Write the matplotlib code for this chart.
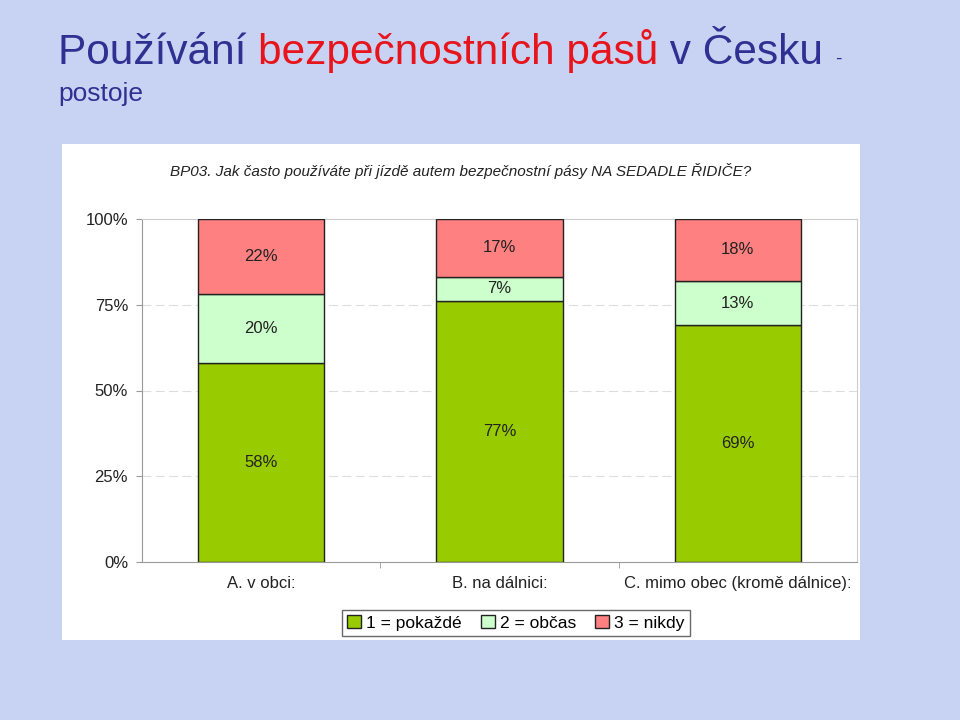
import numpy as np
import matplotlib.pyplot as plt
from matplotlib.patches import Rectangle

plt.rcParams['font.family'] = ['Liberation Sans', 'DejaVu Sans']

categories = ['A. v obci:', 'B. na dálnici:', 'C. mimo obec (kromě dálnice):']
series = ['1 = pokaždé', '2 = občas', '3 = nikdy']
pokazde = [58, 77, 69]
obcas = [20, 7, 13]
nikdy = [22, 17, 18]
colors = ['#99CC00', '#CCFFCC', '#FF8080']

fig = plt.figure(figsize=(9.6, 7.2), dpi=100)
fig.patch.set_facecolor('#C8D3F3')

# white chart panel
fig.patches.append(Rectangle((62 / 960, 1 - 640 / 720), (860 - 62) / 960, (640 - 144) / 720,
                             transform=fig.transFigure, facecolor='white',
                             edgecolor='none', zorder=-5))

# slide title, drawn piece by piece for the two colours
fig.canvas.draw()
r = fig.canvas.get_renderer()
x = 58
for txt, col, size in [('Používání ', '#2E3192', 30.5), ('bezpečnostních pásů', '#E8141C', 30.5),
                       (' v Česku ', '#2E3192', 30.5), ('-', '#2E3192', 14)]:
    tt = fig.text(x / 960, 1 - 64 / 720, txt, fontsize=size, color=col, va='baseline')
    x += tt.get_window_extent(r).width
fig.text(58 / 960, 1 - 94 / 720, 'postoje', fontsize=19, color='#2E3192', va='center')

fig.text(461 / 960, 1 - 171 / 720,
         'BP03. Jak často používáte při jízdě autem bezpečnostní pásy NA SEDADLE ŘIDIČE?',
         fontsize=11, style='italic', ha='center', va='center', color='#222222')

ax = fig.add_axes([142 / 960, 1 - 562 / 720, (857 - 142) / 960, (562 - 219) / 720])
ax.set_facecolor('white')

vals = np.array([pokazde, obcas, nikdy], dtype=float)
share = vals / vals.sum(axis=0) * 100
xpos = np.arange(len(categories))
bottom = np.zeros(len(categories))
for i in range(len(series)):
    ax.bar(xpos, share[i], bottom=bottom, width=0.53, color=colors[i],
           edgecolor='#222222', linewidth=1, label=series[i], zorder=3)
    for j in range(len(categories)):
        ax.text(xpos[j], bottom[j] + share[i][j] / 2, f'{int(vals[i][j])}%',
                ha='center', va='center', fontsize=12, color='#222222', zorder=4)
    bottom += share[i]

ax.set_xlim(-0.5, 2.5)
ax.set_ylim(0, 100)
ax.set_yticks([0, 25, 50, 75, 100])
ax.set_yticklabels(['0%', '25%', '50%', '75%', '100%'], fontsize=12, color='#222222')
ax.set_xticks(xpos)
ax.set_xticklabels(categories, fontsize=12, color='#222222')
ax.tick_params(axis='x', length=0, pad=10)
ax.tick_params(axis='y', length=4, color='#999999', pad=6)
ax.set_xticks([0.5, 1.5], minor=True)
ax.tick_params(axis='x', which='minor', length=4, color='#999999')
for y in [25, 50, 75]:
    ax.axhline(y, color='#DDDDDD', linestyle=(0, (8, 4)), linewidth=0.8, zorder=1)
for s in ['left', 'bottom']:
    ax.spines[s].set_color('#999999')
for s in ['top', 'right']:
    ax.spines[s].set_color('#CCCCCC')

leg = fig.legend(loc='center', bbox_to_anchor=(516 / 960, 1 - 623 / 720), ncol=3,
                 fontsize=12.5, frameon=True, fancybox=False, edgecolor='#444444',
                 handlelength=0.8, handleheight=0.8, handletextpad=0.3,
                 columnspacing=1.1, borderpad=0.3)
for h in leg.legend_handles:
    h.set_edgecolor('#222222')

plt.savefig('out.png', dpi=100, facecolor=fig.get_facecolor())
